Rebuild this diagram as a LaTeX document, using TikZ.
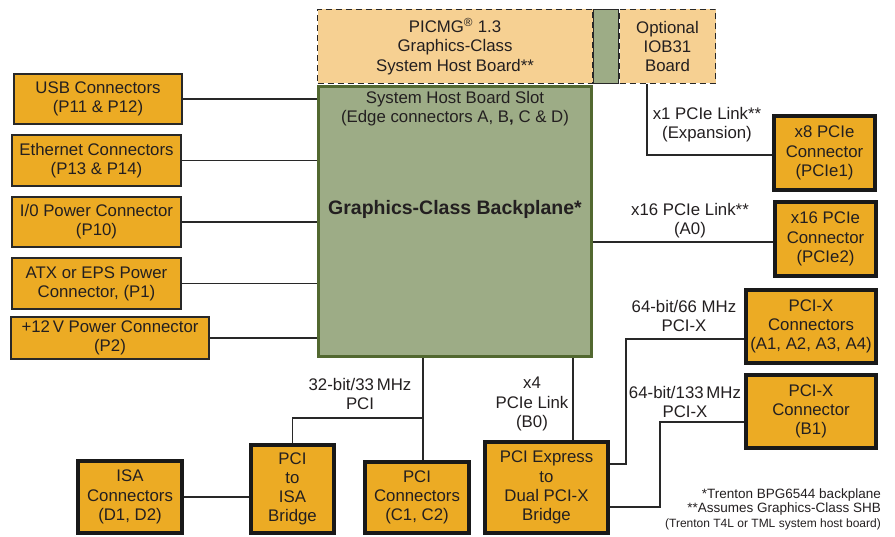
\documentclass[tikz,border=0pt]{standalone}
\usepackage{fontspec}
\setmainfont{Liberation Sans}
\usepackage{tikz}
\definecolor{boxorange}{RGB}{236,171,36}
\definecolor{hosttan}{RGB}{246,208,146}
\definecolor{bpgreen}{RGB}{157,172,134}
\definecolor{bpedge}{RGB}{82,104,48}
\definecolor{linegray}{RGB}{40,40,40}
\definecolor{txt}{RGB}{35,31,32}

\begin{document}
\begin{tikzpicture}[x=1pt, y=-1pt,
        txtfont/.style={font=\fontsize{16.8}{19.2}\selectfont, text=txt, align=center, inner sep=0pt},
        lbox/.style={txtfont, draw=linegray, fill=boxorange, line width=2pt},
        rbox/.style={txtfont, draw=black!90, fill=boxorange, line width=4pt},
        hostbox/.style={txtfont, draw=linegray, fill=hosttan, line width=1.5pt,
            dash pattern=on 6pt off 4pt},
        link/.style={draw=linegray, line width=1.3pt},
        lbl/.style={txtfont}]
        \useasboundingbox (0,0) rectangle (895,537);

        % -- Backplane and the boards that plug into it --
        \node[draw=bpedge, fill=bpgreen, line width=3pt, minimum width=273, minimum height=270]
            (bp) at (455,221.5) {};
        \node[txtfont, below=6pt] (slot) at (bp.north)
            {System Host Board Slot\\(Edge connectors A, B{\bfseries,} C \& D)};
        \node[txtfont, font=\fontsize{19.5}{22}\selectfont\bfseries] (bptitle) at (455,209)
            {Graphics-Class Backplane*};
        \node[hostbox, minimum width=275, minimum height=74] (shb) at (455,46.5)
            {PICMG\textsuperscript{\textregistered} 1.3\\Graphics-Class\\System Host Board**};
        \node[draw=linegray, fill=bpgreen, line width=1.5pt, minimum width=25, minimum height=74]
            (strip) at (606,46.5) {};
        \node[hostbox, minimum width=96, minimum height=74] (iob) at (667.5,46.5)
            {Optional\\IOB31\\Board};

        % -- Left side connectors --
        \node[lbox, minimum width=168, minimum height=50] (usb) at (98,99)
            {USB Connectors\\(P11 \& P12)};
        \node[lbox, minimum width=169, minimum height=51] (eth) at (96.5,160.5)
            {Ethernet Connectors\\(P13 \& P14)};
        \node[lbox, minimum width=169, minimum height=50] (iopwr) at (96.5,222)
            {I/0 Power Connector\\(P10)};
        \node[lbox, minimum width=169, minimum height=51] (atx) at (96.5,283.5)
            {ATX or EPS Power\\Connector, (P1)};
        \node[lbox, minimum width=198, minimum height=42] (pwr) at (110,338)
            {+12\,V Power Connector\\(P2)};
        \foreach \n in {usb,eth,iopwr,atx,pwr}
            \draw[link] (\n.east) -- (\n.east -| bp.west);

        % -- Right side connectors --
        \node[rbox, minimum width=101, minimum height=74] (xeight) at (824.5,153)
            {x8 PCIe\\Connector\\(PCIe1)};
        \node[rbox, minimum width=101, minimum height=74] (xsixteen) at (825.5,239)
            {x16 PCIe\\Connector\\(PCIe2)};
        \node[rbox, minimum width=130, minimum height=73] (pcix) at (811,326.5)
            {PCI-X\\Connectors\\(A1, A2, A3, A4)};
        \node[rbox, minimum width=130, minimum height=73] (pcixb) at (811,411.5)
            {PCI-X\\Connector\\(B1)};

        % -- Bottom row --
        \node[rbox, minimum width=104, minimum height=72] (isa) at (130,497)
            {ISA\\Connectors\\(D1, D2)};
        \node[rbox, minimum width=83, minimum height=88] (bridge) at (292.5,489)
            {PCI\\to\\ISA\\Bridge};
        \node[rbox, minimum width=104, minimum height=71] (pciconn) at (417,497.5)
            {PCI\\Connectors\\(C1, C2)};
        \node[rbox, minimum width=123, minimum height=91] (pcie2x) at (546.5,487.5)
            {PCI Express\\to\\Dual PCI-X\\Bridge};

        % -- Links --
        \draw[link] ([xshift=-20.5pt]iob.south) |- ([yshift=-2pt]xeight.west);
        \draw[link] (bp.east |- 0,242) -- (xsixteen.west |- 0,242);
        \coordinate (bendA) at (626,339);
        \coordinate (bendB) at (660,422);
        \draw[link] (pcix.west |- bendA) -- (bendA) |- (pcie2x.east |- 0,464);
        \draw[link] (pcixb.west |- bendB) -- (bendB) |- (pcie2x.east |- 0,507);
        \draw[link] (bp.south -| 573,0) -- (pcie2x.north -| 573,0);
        \coordinate (pcitap) at (423,418);
        \draw[link] (bp.south -| pcitap) -- (pciconn.north -| pcitap);
        \draw[link] (pcitap) -| (bridge.north);
        \draw[link] (isa.east) -- (isa.east -| bridge.west);

        % -- Link labels --
        \node[lbl] (lblxone) at (707,125) {x1 PCIe Link**\\(Expansion)};
        \node[lbl] (lblxsixteen) at (690,221) {x16 PCIe Link**\\(A0)};
        \node[lbl] (lblsixtysix) at (684,316) {64-bit/66 MHz\\PCI-X};
        \node[lbl] (lblonethirty) at (685,402) {64-bit/133\,MHz\\PCI-X};
        \node[lbl] (lblpci) at (360,394) {32-bit/33\,MHz\\PCI};
        \node[lbl] (lblxfour) at (532,404) {x4\\PCIe Link\\(B0)};

        % -- Footnotes --
        \node[lbl, font=\fontsize{13.5}{15}\selectfont, anchor=east] (noteone) at (881,495)
            {*Trenton BPG6544 backplane};
        \node[lbl, font=\fontsize{13.5}{15}\selectfont, anchor=east] (notetwo) at (881,509.5)
            {**Assumes Graphics-Class SHB};
        \node[lbl, font=\fontsize{12}{13}\selectfont, anchor=east] (notethree) at (881,524)
            {(Trenton T4L or TML system host board)};
    \end{tikzpicture}
\end{document}
